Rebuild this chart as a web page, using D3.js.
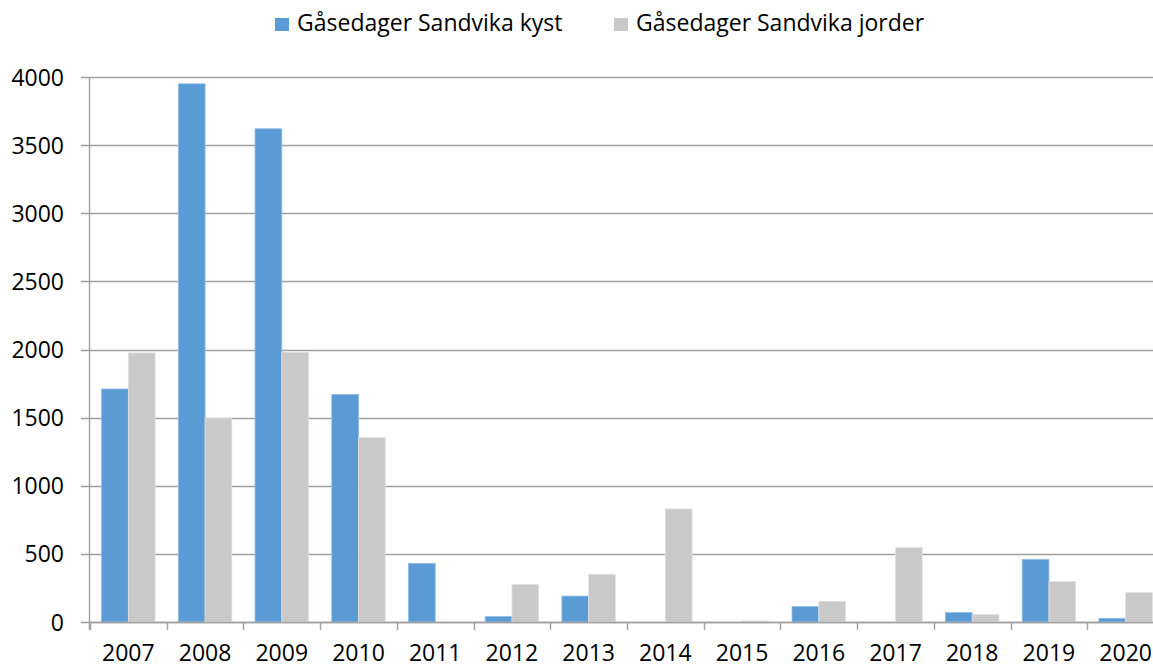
<!DOCTYPE html>
<html>
<head>
<meta charset="utf-8">
<script src="https://cdn.jsdelivr.net/npm/d3@7"></script>
<style>
  body { margin: 0; background: #fff; overflow: hidden; }
  text { font-family: "Open Sans", sans-serif; fill: #000; }
</style>
</head>
<body>
<div id="chart"></div>
<script>
const years = ['2007','2008','2009','2010','2011','2012','2013','2014','2015','2016','2017','2018','2019','2020'];
const kyst = [1710, 3950, 3620, 1670, 430, 40, 190, 0, 0, 113, 0, 69, 460, 27];
const jorder = [1975, 1495, 1980, 1355, 0, 275, 350, 830, 8, 152, 545, 54, 296, 215];
const seriesNames = ['Gåsedager Sandvika kyst', 'Gåsedager Sandvika jorder'];
const yTicks = [0, 500, 1000, 1500, 2000, 2500, 3000, 3500, 4000];

const W = 1153, H = 668;
const colors = ['#5b9bd5', '#c9c9c9'];

const svg = d3.select('#chart').append('svg')
  .attr('width', W).attr('height', H);

// scales
const x = d3.scaleBand().domain(years).range([90, 1164]).paddingInner(0).paddingOuter(0);
const xs = d3.scaleBand().domain([0, 1]).range([0, x.bandwidth()]).paddingInner(0).paddingOuter(0.435);
const y = d3.scaleLinear().domain([0, 4000]).range([622, 77]);

// gridlines
svg.append('g')
  .selectAll('line').data(yTicks).join('line')
  .attr('x1', 81).attr('x2', W)
  .attr('y1', d => Math.round(y(d)) + 0.5).attr('y2', d => Math.round(y(d)) + 0.5)
  .attr('stroke', '#a0a0a0').attr('stroke-width', 1.4);

// y labels
svg.append('g')
  .selectAll('text').data(yTicks).join('text')
  .attr('x', 64).attr('y', d => y(d) + 8.5)
  .attr('text-anchor', 'end')
  .style('font-size', '23px')
  .text(d => d);

// bars
const data = years.map((yr, i) => ({ yr, vals: [kyst[i], jorder[i]] }));
const grp = svg.append('g').selectAll('g').data(data).join('g')
  .attr('transform', d => `translate(${x(d.yr)},0)`);
grp.selectAll('rect').data(d => d.vals.map((v, k) => ({ v, k }))).join('rect')
  .attr('x', d => xs(d.k))
  .attr('width', xs.bandwidth())
  .attr('y', d => y(d.v))
  .attr('height', d => y(0) - y(d.v))
  .attr('fill', d => colors[d.k])
  .attr('stroke', d => d.k === 0 ? '#8fbbe6' : '#e0e0e0')
  .attr('stroke-width', 0.8);

// x axis line + ticks
const bounds = years.map(d => x(d)).concat([x.range()[1]]);
svg.append('line')
  .attr('x1', 90).attr('x2', W).attr('y1', Math.round(y(0)) + 0.5).attr('y2', Math.round(y(0)) + 0.5)
  .attr('stroke', '#a0a0a0').attr('stroke-width', 1.4);
svg.append('g').selectAll('line').data(bounds).join('line')
  .attr('x1', d => Math.round(d) + 0.5).attr('x2', d => Math.round(d) + 0.5)
  .attr('y1', y(0)).attr('y2', y(0) + 8)
  .attr('stroke', '#a0a0a0').attr('stroke-width', 1.4);
// y axis line
svg.append('line')
  .attr('x1', 89.5).attr('x2', 89.5).attr('y1', y(4000)).attr('y2', y(0) + 8)
  .attr('stroke', '#a0a0a0').attr('stroke-width', 1.4);

// x labels
svg.append('g').selectAll('text').data(years).join('text')
  .attr('x', d => x(d) + x.bandwidth() / 2).attr('y', 661)
  .attr('text-anchor', 'middle')
  .style('font-size', '23px')
  .text(d => d);

// legend
const legendX = [275, 614];
const leg = svg.append('g').selectAll('g').data(seriesNames).join('g')
  .attr('transform', (d, i) => `translate(${legendX[i]},18)`);
leg.append('rect').attr('width', 14).attr('height', 13).attr('fill', (d, i) => colors[i]);
leg.append('text').attr('x', 22).attr('y', 13)
  .style('font-size', '23px').text(d => d);
</script>
</body>
</html>
